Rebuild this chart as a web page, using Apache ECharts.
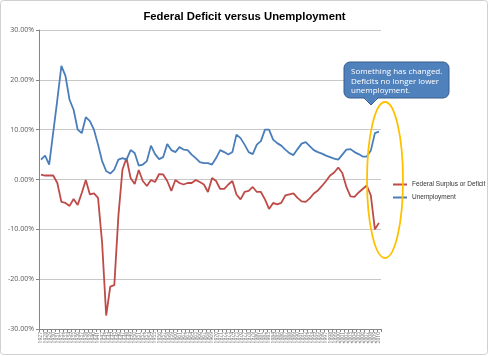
<!DOCTYPE html>
<html>
<head>
<meta charset="utf-8">
<script src="https://cdn.jsdelivr.net/npm/echarts@6/dist/echarts.min.js"></script>
<style>html,body{margin:0;padding:0;background:#fff;}#c{width:489px;height:356px;}</style>
</head>
<body>
<div id="c"></div>
<script>
var years = [];
for (var y = 1927; y <= 2010; y++) years.push(String(y));

var deficit = [1.0,0.8,0.8,0.8,-0.7,-4.5,-4.7,-5.3,-3.9,-5.1,
  -2.7,-0.1,-3.0,-2.8,-3.7,-12.7,-27.3,-21.5,-21.2,-7.3,
  2.0,4.3,0.3,-0.9,1.9,-0.3,-1.3,-0.1,-0.5,1.1,
  1.0,-0.3,-2.3,-0.1,-0.7,-1.0,-0.7,-0.7,-0.1,-0.5,
  -1.0,-2.5,0.3,-0.3,-1.9,-1.9,-1.0,-0.3,-3.0,-4.0,
  -2.5,-2.3,-1.5,-2.5,-2.5,-4.0,-5.9,-4.7,-5.0,-4.7,
  -3.2,-3.0,-2.8,-3.7,-4.4,-4.5,-3.8,-2.8,-2.2,-1.3,
  -0.3,0.8,1.4,2.4,1.3,-1.5,-3.4,-3.5,-2.6,-1.9,
  -1.2,-3.2,-10.0,-8.7];

var unemployment = [4.0,4.8,3.0,9.5,16.0,22.8,20.8,16.0,14.0,10.0,
  9.3,12.5,11.7,10.0,7.0,3.7,1.7,1.2,2.0,4.0,
  4.3,4.0,5.9,5.3,2.8,3.0,3.7,6.8,5.1,4.1,
  4.5,7.1,5.9,5.5,6.5,6.0,5.9,5.0,4.3,3.5,
  3.3,3.3,3.0,4.3,5.9,5.5,5.0,5.5,9.0,8.3,
  7.0,5.5,5.1,7.0,7.7,10.0,10.0,8.0,7.3,6.8,
  6.0,5.3,4.9,6.1,7.2,7.5,6.7,5.9,5.5,5.2,
  4.8,4.5,4.2,4.0,5.0,6.0,6.1,5.5,5.1,4.6,
  4.6,5.8,9.3,9.6];

var yTicks = [-30, -20, -10, 0, 10, 20, 30];

var chart = echarts.init(document.getElementById('c'), null, {renderer: 'canvas'});
var font = 'Open Sans, Liberation Sans, sans-serif';
var sans = 'Liberation Sans, Arial, sans-serif';
chart.setOption({
  animation: false,
  backgroundColor: '#ffffff',
  title: {
    text: 'Federal Deficit versus Unemployment',
    left: 'center', top: 6,
    textStyle: {fontSize: 11.3, fontWeight: 'bold', color: '#000', fontFamily: sans}
  },
  legend: {
    orient: 'vertical', left: 388, top: 176,
    itemWidth: 14, itemHeight: 2, itemGap: 6, icon: 'rect',
    textStyle: {fontSize: 6.5, color: '#333', fontFamily: sans},
    data: ['Federal Surplus or Deficit', 'Unemployment']
  },
  grid: {left: 39, right: 108, top: 30, bottom: 27, containLabel: false},
  xAxis: {
    type: 'category', data: years, boundaryGap: true,
    axisLine: {onZero: false, lineStyle: {color: '#868686', width: 1}},
    axisTick: {show: true, interval: 0, length: 3, lineStyle: {color: '#868686'}},
    axisLabel: {interval: 0, rotate: 90, fontSize: 5, color: '#6a6a6a', margin: 3, fontFamily: font}
  },
  yAxis: {
    type: 'value', min: yTicks[0], max: yTicks[yTicks.length - 1], interval: 10,
    axisLine: {show: true, lineStyle: {color: '#868686', width: 1}},
    axisTick: {show: true, length: 3, lineStyle: {color: '#868686'}},
    splitLine: {lineStyle: {color: '#c8c8c8', width: 1}},
    axisLabel: {fontSize: 7, color: '#595959', margin: 5, fontFamily: font,
      formatter: function (v) { return v.toFixed(2) + '%'; }}
  },
  series: [
    {name: 'Federal Surplus or Deficit', type: 'line', data: deficit, showSymbol: false, symbol: 'none',
      lineStyle: {color: '#be4b48', width: 1.8}, itemStyle: {color: '#be4b48'}},
    {name: 'Unemployment', type: 'line', data: unemployment, showSymbol: false, symbol: 'none',
      lineStyle: {color: '#4a7ebb', width: 1.8}, itemStyle: {color: '#4a7ebb'}}
  ],
  graphic: [
    {type: 'rect', shape: {x: 0.5, y: 0.5, width: 487, height: 354, r: 3}, silent: true,
      style: {fill: 'none', stroke: '#d0d0d0', lineWidth: 1}, z: 0},
    {type: 'ellipse', shape: {cx: 385, cy: 180, rx: 18, ry: 78},
      style: {fill: 'none', stroke: '#ffc000', lineWidth: 1.8}, z: 10},
    {type: 'rect', shape: {x: 344, y: 62, width: 105, height: 36, r: 6},
      style: {fill: '#4f81bd', stroke: '#385d8a', lineWidth: 1}, z: 11},
    {type: 'polygon', shape: {points: [[364, 97], [378, 97], [371, 105]]},
      style: {fill: '#4f81bd', stroke: 'none'}, z: 12},
    {type: 'polyline', shape: {points: [[364, 98], [371, 105], [378, 98]]},
      style: {fill: 'none', stroke: '#385d8a', lineWidth: 1}, z: 12},
    {type: 'text', x: 351, y: 67, z: 13,
      style: {text: 'Something has changed.\nDeficits no longer lower\nunemployment.',
        fill: '#ffffff', fontSize: 8, lineHeight: 9.5, fontFamily: font}}
  ]
});
</script>
</body>
</html>
